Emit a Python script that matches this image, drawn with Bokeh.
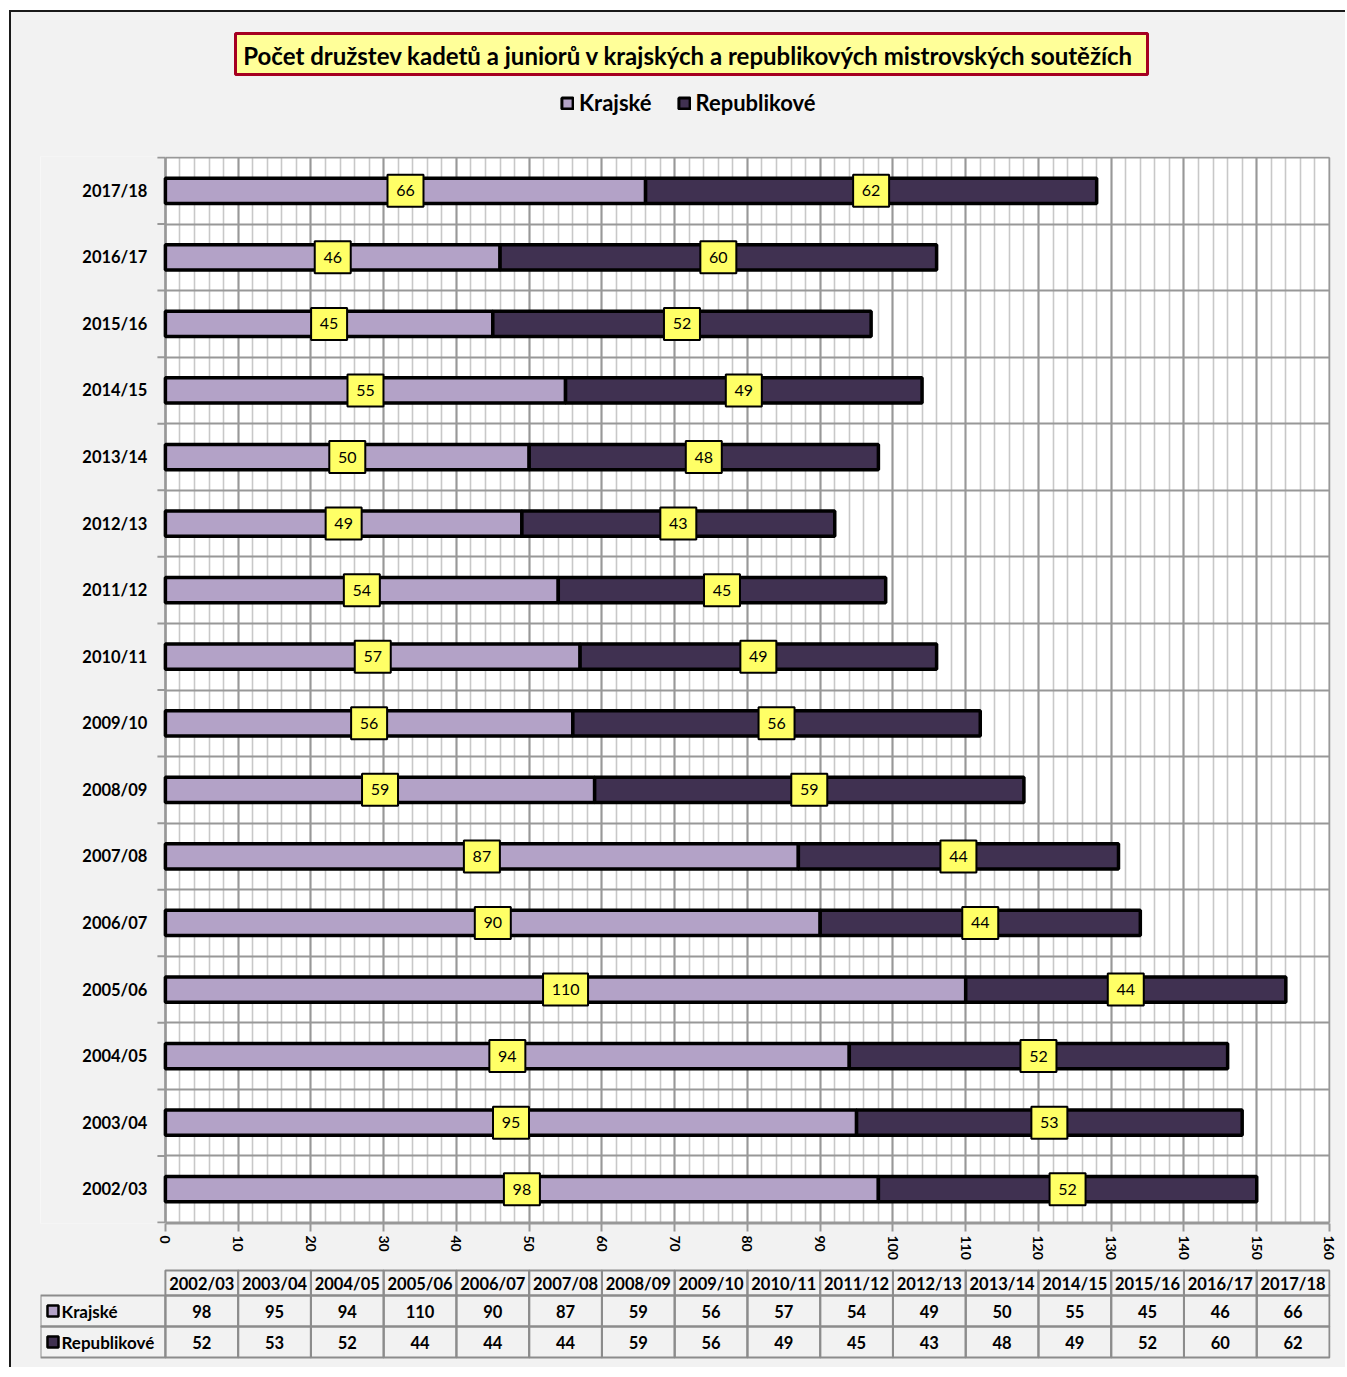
from bokeh.plotting import figure
from bokeh.models import (Range1d, LinearAxis, SingleIntervalTicker, FixedTicker, Grid,
                          ColumnDataSource, Legend, LegendItem)
from bokeh.layouts import column
from bokeh.embed import file_html
from bokeh.resources import INLINE
from bokeh.core.properties import value

# ---------------- data ----------------
seasons = ["2002/03", "2003/04", "2004/05", "2005/06", "2006/07", "2007/08", "2008/09", "2009/10",
           "2010/11", "2011/12", "2012/13", "2013/14", "2014/15", "2015/16", "2016/17", "2017/18"]
krajske = [98, 95, 94, 110, 90, 87, 59, 56, 57, 54, 49, 50, 55, 45, 46, 66]
republikove = [52, 53, 52, 44, 44, 44, 59, 56, 49, 45, 43, 48, 49, 52, 60, 62]
series_names = ["Krajské", "Republikové"]
title_text = "Počet družstev kadetů a juniorů v krajských a republikových mistrovských  soutěžích"
x_max = 160
x_tick_step = 10

# ---------------- style ----------------
FONT = "Lato"
BG = "#F2F2F2"
COLORS = ["#B3A2C7", "#403151"]
GRID_MAJ = "#989898"
GRID_MIN = "#C8C8C8"
LABEL_BG = "#FFFF66"
CELL = "#8C8C8C"
W = 1334
BL, BR = 29, 15           # all frames span page x 40..1330
PX = 1165 / x_max         # pixels per x unit
X0 = -125 / PX            # left edge of the frames (row-label column of the table)
n = len(seasons)
centers = [i + 0.5 for i in range(n)]
bounds = list(range(n + 1))
TXT = dict(text_font=value(FONT), text_color="black")

# ---------------- top: title + legend ----------------
top = figure(width=W, height=128, x_range=Range1d(40, 1330), y_range=Range1d(140, 12),
             x_axis_location=None, y_axis_location=None, toolbar_location=None,
             output_backend="svg", min_border_left=BL, min_border_right=BR, min_border_top=0,
             min_border_bottom=0, background_fill_color=BG, border_fill_color=BG,
             outline_line_color=None)
top.xgrid.visible = False
top.ygrid.visible = False
# legend key renderers (hidden behind the title box)
d1 = top.hbar(y=[53.5], left=[600], right=[610], height=4, fill_color=COLORS[0],
              line_color="black", line_width=3)
d2 = top.hbar(y=[53.5], left=[600], right=[610], height=4, fill_color=COLORS[1],
              line_color="black", line_width=3)
top.rect(x=[691], y=[53.5], width=[912], height=[41], fill_color="#FFFF99",
         line_color="#A50021", line_width=3)
top.text(x=[691], y=[54.5], text=[title_text], text_align="center", text_baseline="middle",
         text_font_size="24px", text_font_style="bold", **TXT)
legend = Legend(items=[LegendItem(label=series_names[0], renderers=[d1]),
                       LegendItem(label=series_names[1], renderers=[d2])],
                orientation="horizontal", location=(520, 24), glyph_width=14, glyph_height=14,
                label_standoff=5, spacing=25, padding=0, margin=0, background_fill_alpha=0,
                border_line_color=None, label_text_font=FONT, label_text_font_style="bold",
                label_text_font_size="22px", label_text_color="black")
top.add_layout(legend)

# ---------------- main chart ----------------
p = figure(width=W, height=1125, x_range=Range1d(X0, x_max + 0.14),
           y_range=Range1d(-0.015, n + 0.015),
           x_axis_location=None, y_axis_location=None, toolbar_location=None, output_backend="svg",
           min_border_left=BL, min_border_right=BR, min_border_top=16, min_border_bottom=42,
           background_fill_color="white", border_fill_color=BG, outline_line_color=None)
p.xgrid.visible = False
p.ygrid.visible = False

xaxis = LinearAxis(ticker=SingleIntervalTicker(interval=x_tick_step, num_minor_ticks=5),
                   bounds=(0, x_max),
                   major_label_orientation="vertical", major_tick_out=8, major_tick_in=0,
                   major_tick_line_color=GRID_MAJ, major_tick_line_width=2,
                   minor_tick_line_color=None, axis_line_color=GRID_MAJ, axis_line_width=2,
                   major_label_text_font=FONT, major_label_text_font_style="bold",
                   major_label_text_font_size="14px", major_label_text_color="black",
                   major_label_standoff=4)
p.add_layout(xaxis, "below")
p.add_layout(Grid(dimension=0, ticker=xaxis.ticker, bounds=(0, x_max), cross_bounds=(0, n),
                  grid_line_color=GRID_MAJ, grid_line_width=2,
                  minor_grid_line_color=GRID_MIN, minor_grid_line_width=1.6), "center")
p.add_layout(Grid(dimension=1, ticker=FixedTicker(ticks=bounds), bounds=(0, n),
                  cross_bounds=(0, x_max),
                  grid_line_color=GRID_MAJ, grid_line_width=2), "center")

# grey area left of the plot area (category-label column)
p.quad(left=[X0], right=[0], bottom=[-1], top=[n + 1], fill_color=BG, line_color=None)
# small outward ticks at category boundaries and the category axis line
p.segment(x0=[-8 / PX] * len(bounds), x1=[0] * len(bounds), y0=bounds, y1=bounds,
          line_color=GRID_MAJ, line_width=2)
p.segment(x0=[0], x1=[0], y0=[0], y1=[n], line_color=GRID_MAJ, line_width=2.5)

# category labels
p.text(x=[-18 / PX] * n, y=centers, text=seasons, text_align="right", text_baseline="middle",
       text_font_size="16.5px", text_font_style="bold", **TXT)

src = ColumnDataSource(dict(pos=centers, kraj=krajske, rep=republikove))
p.hbar_stack(["kraj", "rep"], y="pos", height=0.38, fill_color=COLORS, line_color="black",
             line_width=3.5, source=src)

all_vals = krajske + republikove
lab = ColumnDataSource(dict(
    pos=centers + centers,
    x=[k / 2 for k in krajske] + [k + r / 2 for k, r in zip(krajske, republikove)],
    text=[str(v) for v in all_vals],
    w=[18 + 9 * len(str(v)) for v in all_vals],
))
p.rect(x="x", y="pos", width="w", width_units="screen", height=32, height_units="screen",
       fill_color=LABEL_BG, line_color="black", line_width=2, source=lab)
p.text(x="x", y="pos", text="text", text_align="center", text_baseline="middle",
       text_font_size="16px", source=lab, **TXT)

# ---------------- data table ----------------
tab = figure(width=W, height=102, x_range=Range1d(X0, x_max + 0.14), y_range=Range1d(1367, 1265),
             x_axis_location=None, y_axis_location=None, toolbar_location=None, output_backend="svg",
             min_border_left=BL, min_border_right=BR, min_border_top=0, min_border_bottom=0,
             background_fill_color=BG, border_fill_color=BG, outline_line_color=None)
tab.xgrid.visible = False
tab.ygrid.visible = False
col_x = [x_tick_step * i + x_tick_step / 2 for i in range(n)]
row_y = [1282.5, 1310.5, 1341.5]
row_h = [25, 31, 31]
# header row
tab.rect(x=col_x, y=[row_y[0]] * n, width=x_tick_step, height=row_h[0], fill_alpha=0,
         line_color=CELL, line_width=2)
tab.text(x=col_x, y=[row_y[0] + 1] * n, text=seasons, text_align="center", text_baseline="middle",
         text_font_size="16.5px", text_font_style="bold", **TXT)
for ri, vals in enumerate([krajske, republikove]):
    yy = row_y[ri + 1]
    hh = row_h[ri + 1]
    tab.rect(x=col_x, y=[yy] * n, width=x_tick_step, height=hh, fill_alpha=0,
             line_color=CELL, line_width=2)
    tab.text(x=col_x, y=[yy] * n, text=[str(v) for v in vals], text_align="center",
             text_baseline="middle", text_font_size="16.5px", text_font_style="bold", **TXT)
    tab.rect(x=[X0 / 2], y=[yy], width=-X0, height=hh, fill_alpha=0,
             line_color=CELL, line_width=2)
    tab.rect(x=[(52.5 - 165) / PX], y=[yy], width=11, height=11, width_units="screen",
             height_units="screen", fill_color=COLORS[ri], line_color="black", line_width=2.5)
    tab.text(x=[(61 - 165) / PX], y=[yy], text=[series_names[ri]], text_align="left",
             text_baseline="middle", text_font_size="17px", text_font_style="bold", **TXT)

layout = column(top, p, tab, spacing=0,
                styles={"border-left": "2px solid #1A1A1A", "border-top": "2px solid #1A1A1A",
                        "margin-left": "9px", "margin-top": "10px",
                        "background-color": BG})

open("out.html", "w").write(file_html(layout, INLINE))
